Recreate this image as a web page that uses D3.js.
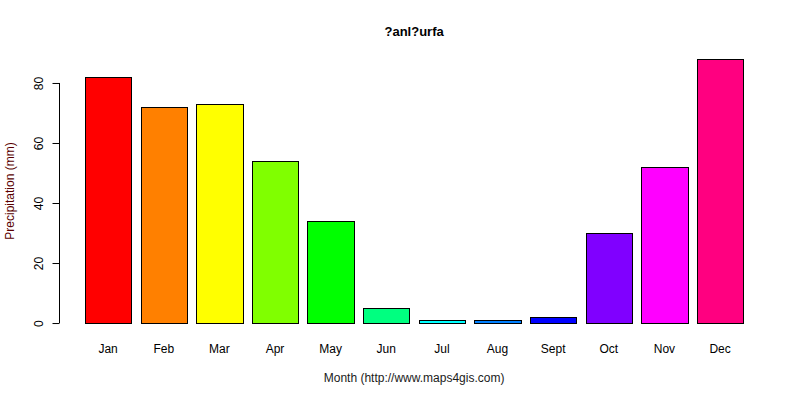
<!DOCTYPE html>
<html>
  <head>
    <meta charset="utf-8">
    <title>Precipitation</title>
    <script src="https://cdn.jsdelivr.net/npm/d3@7"></script>
    <style>
      body { margin: 0; background: #fff; }
      svg { font-family: "Liberation Sans", Arial, sans-serif; }
      .axis text { font-size: 12px; fill: #000; }
      .axis path, .axis line { stroke: #000; }
    </style>
  </head>
  <body>
    <svg id="chart" width="800" height="400">
      <g id="barGroup"></g>
      <g id="yAxisGroup" class="axis"></g>
      <g id="labelGroup" class="axis"></g>
    </svg>

    <script>
      // data
      months = ["Jan", "Feb", "Mar", "Apr", "May", "Jun", "Jul", "Aug", "Sept", "Oct", "Nov", "Dec"];
      precip = [82, 72, 73, 54, 34, 5, 1, 1, 2, 30, 52, 88];
      colours = ["#FF0000", "#FF8000", "#FFFF00", "#80FF00", "#00FF00", "#00FF80",
                 "#00FFFF", "#0080FF", "#0000FF", "#8000FF", "#FF00FF", "#FF0080"];
      yTicks = [0, 20, 40, 60, 80];

      chart = d3.select("#chart");

      // R barplot layout: width 1, space 0.2, axes padded 4%
      left = 0.2;
      right = months.length * 1.2;
      padX = (right - left) * 0.04;
      yMax = d3.max(precip);
      padY = yMax * 0.04;

      x = d3.scaleLinear()
        .domain([left - padX, right + padX])
        .range([58.6, 769.6]);
      y = d3.scaleLinear()
        .domain([-padY, yMax + padY])
        .range([333.6, 48.4]);

      // snap to half pixels so the 1px borders stay crisp
      function px(v) { return Math.round(v) + 0.5; }

      chart.select("#barGroup")
        .selectAll("rect")
          .data(precip)
        .enter().append("rect")
          .attr("x", function(d, i) { return px(x(0.2 + i * 1.2)); })
          .attr("width", function(d, i) { return px(x(1.2 + i * 1.2)) - px(x(0.2 + i * 1.2)); })
          .attr("y", function(d) { return px(y(d)); })
          .attr("height", function(d) { return px(y(0)) - px(y(d)); })
          .attr("fill", function(d, i) { return colours[i]; })
          .attr("stroke", "#000")
          .attr("stroke-width", 1);

      yAxis = d3.axisLeft(y)
        .tickValues(yTicks)
        .tickSize(7)
        .tickSizeOuter(0);
      yAxisGroup = chart.select("#yAxisGroup")
        .attr("transform", "translate(59.5, 0)")
        .call(yAxis);
      yAxisGroup.select(".domain")
        .attr("d", "M0," + y(0) + "V" + y(80));
      yAxisGroup.selectAll(".tick text")
        .attr("transform", "translate(-21, 0) rotate(-90)")
        .attr("x", 0)
        .attr("y", 0)
        .attr("dy", "0.35em")
        .style("text-anchor", "middle");

      // month labels
      chart.select("#labelGroup")
        .selectAll("text")
          .data(months)
        .enter().append("text")
          .attr("x", function(d, i) { return x(0.7 + i * 1.2); })
          .attr("y", 353)
          .attr("text-anchor", "middle")
          .text(function(d) { return d; });

      // titles
      chart.append("text")
        .attr("x", x((left + right) / 2))
        .attr("y", 36)
        .attr("text-anchor", "middle")
        .style("font-size", "13px")
        .style("font-weight", "bold")
        .text("?anl?urfa");
      chart.append("text")
        .attr("x", x((left + right) / 2))
        .attr("y", 382)
        .attr("text-anchor", "middle")
        .style("font-size", "12px")
        .style("fill", "#1a1a1a")
        .text("Month (http://www.maps4gis.com)");
      chart.append("text")
        .attr("transform", "translate(14, " + y(44) + ") rotate(-90)")
        .attr("text-anchor", "middle")
        .style("font-size", "12px")
        .style("fill", "#5a0000")
        .text("Precipitation (mm)");
    </script>
  </body>
</html>
